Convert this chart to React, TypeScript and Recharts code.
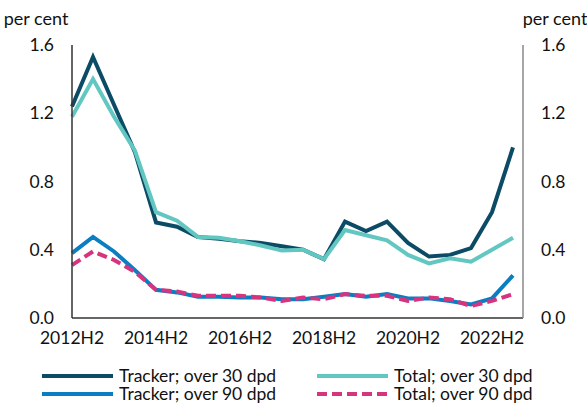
import { Legend, Line, LineChart, XAxis, YAxis } from "recharts";

const periods = [
  "2012H2", "2013H1", "2013H2", "2014H1", "2014H2", "2015H1", "2015H2", "2016H1",
  "2016H2", "2017H1", "2017H2", "2018H1", "2018H2", "2019H1", "2019H2", "2020H1",
  "2020H2", "2021H1", "2021H2", "2022H1", "2022H2", "2023H1",
];

const tracker30 = [1.24, 1.53, 1.25, 0.97, 0.56, 0.535, 0.475, 0.465, 0.45, 0.44, 0.42, 0.4, 0.345, 0.565, 0.51, 0.565, 0.44, 0.36, 0.37, 0.41, 0.62, 1.0];
const total30 = [1.18, 1.4, 1.18, 0.98, 0.62, 0.57, 0.475, 0.47, 0.45, 0.425, 0.395, 0.4, 0.345, 0.515, 0.485, 0.455, 0.37, 0.32, 0.35, 0.33, 0.4, 0.47];
const tracker90 = [0.38, 0.475, 0.39, 0.28, 0.165, 0.15, 0.125, 0.125, 0.12, 0.12, 0.11, 0.11, 0.125, 0.14, 0.125, 0.14, 0.115, 0.115, 0.1, 0.08, 0.115, 0.25];
const total90 = [0.31, 0.39, 0.34, 0.27, 0.165, 0.155, 0.13, 0.13, 0.13, 0.12, 0.1, 0.12, 0.11, 0.14, 0.13, 0.13, 0.1, 0.12, 0.11, 0.07, 0.1, 0.14];

const xTicks = ["2012H2", "2014H2", "2016H2", "2018H2", "2020H2", "2022H2"];
const yTicks = [0, 0.4, 0.8, 1.2, 1.6];

const data = periods.map((period, i) => ({
  period,
  tracker30: tracker30[i],
  total30: total30[i],
  tracker90: tracker90[i],
  total90: total90[i],
}));

// tracker30 is bound to the top/right axes so those axes get a scale and draw the frame
const series = [
  { key: "tracker30", name: "Tracker; over 30 dpd", color: "#0b4b66", dash: undefined, xId: "top", yId: "right" },
  { key: "total30", name: "Total; over 30 dpd", color: "#63c7c1", dash: undefined, xId: 0, yId: "left" },
  { key: "tracker90", name: "Tracker; over 90 dpd", color: "#0b7dc3", dash: undefined, xId: 0, yId: "left" },
  { key: "total90", name: "Total; over 90 dpd", color: "#d6347f", dash: "10 5", xId: 0, yId: "left" },
];

const font = "Lato, sans-serif";
const tickStyle = { fontSize: 17.5, fill: "#111", fontFamily: font };
const unitStyle = { fontSize: 18, fill: "#111", fontFamily: font };

function LegendBox() {
  const cols = [42, 317];
  return (
    <div style={{ position: "relative", width: 587, height: 45, fontFamily: font, fontSize: 17.5, color: "#111" }}>
      {series.map((s, i) => (
        <div
          key={s.key}
          style={{
            position: "absolute",
            left: cols[i % 2],
            top: 7 + Math.floor(i / 2) * 18,
            display: "flex",
            alignItems: "center",
            height: 18,
            lineHeight: "18px",
            whiteSpace: "nowrap",
          }}
        >
          <svg width={77} height={8}>
            <line x1={0} y1={4} x2={71} y2={4} stroke={s.color} strokeWidth={4} strokeDasharray={s.dash} />
          </svg>
          <span>{s.name}</span>
        </div>
      ))}
    </div>
  );
}

export default function App() {
  return (
    <div style={{ position: "absolute", left: 0, top: 0 }}>
      <LineChart width={587} height={405} data={data} margin={{ top: 45, right: 0, left: 0, bottom: 0 }}>
        <XAxis
          dataKey="period"
          ticks={xTicks}
          interval={0}
          tickLine={false}
          tickSize={0}
          tickMargin={14}
          height={42}
          padding={{ left: 0, right: 10 }}
          axisLine={{ stroke: "#333", strokeWidth: 1.5 }}
          tick={tickStyle}
        />
        <XAxis
          xAxisId="top"
          dataKey="period"
          orientation="top"
          tick={false}
          tickLine={false}
          height={0}
          padding={{ left: 0, right: 10 }}
          axisLine={{ stroke: "#888", strokeWidth: 1.5 }}
        />
        <YAxis
          yAxisId="left"
          domain={[0, 1.6]}
          ticks={yTicks}
          width={72}
          tickLine={false}
          tickSize={0}
          tickMargin={18}
          tickFormatter={(v) => v.toFixed(1)}
          axisLine={{ stroke: "#333", strokeWidth: 1.5 }}
          tick={tickStyle}
          label={{ value: "per cent", position: "top", offset: 20, style: unitStyle }}
        />
        <YAxis
          yAxisId="right"
          orientation="right"
          domain={[0, 1.6]}
          ticks={yTicks}
          width={64}
          tickLine={false}
          tickSize={0}
          tickMargin={18}
          tickFormatter={(v) => v.toFixed(1)}
          axisLine={{ stroke: "#888", strokeWidth: 1.5 }}
          tick={tickStyle}
          label={{ value: "per cent", position: "top", offset: 20, style: unitStyle }}
        />
        <Legend verticalAlign="bottom" height={45} content={() => <LegendBox />} />
        {series.map((s) => (
          <Line
            key={s.key}
            xAxisId={s.xId}
            yAxisId={s.yId}
            type="linear"
            dataKey={s.key}
            name={s.name}
            stroke={s.color}
            strokeWidth={4}
            strokeDasharray={s.dash}
            dot={false}
            isAnimationActive={false}
          />
        ))}
      </LineChart>
    </div>
  );
}
